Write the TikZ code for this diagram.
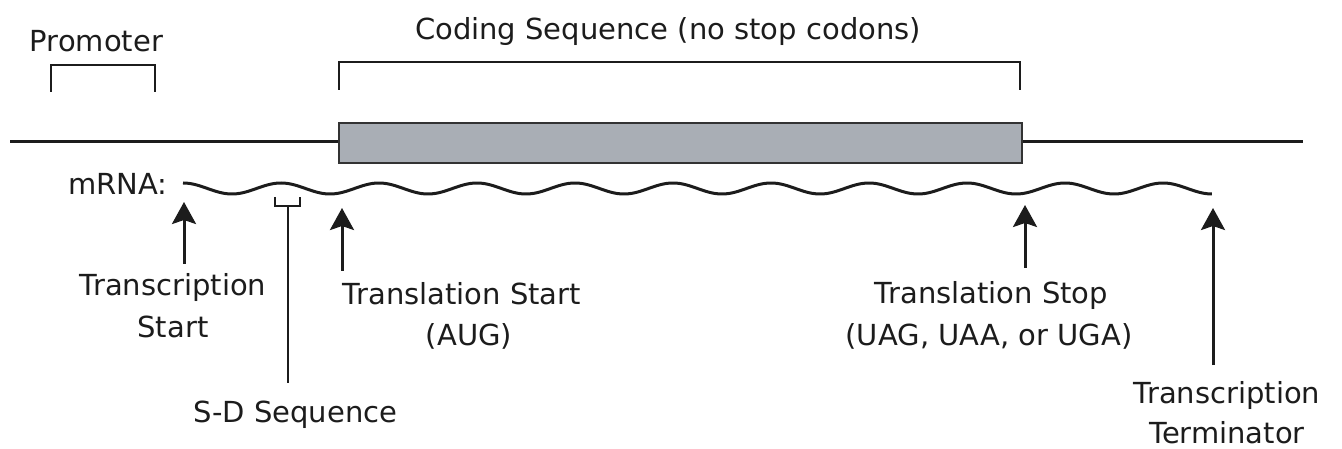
\documentclass[tikz,border=0pt]{standalone}
\usepackage{fontspec}
\setmainfont{DejaVu Sans}
\usetikzlibrary{arrows.meta}
\definecolor{cdsgray}{HTML}{A9AEB5}
\definecolor{cdsedge}{HTML}{333333}
\definecolor{ink}{HTML}{1C1C1C}
\begin{document}
\begin{tikzpicture}[x=1pt,y=-1pt,
  dna/.style={draw=ink, line width=3pt},
  brk/.style={draw=ink, line width=2.6pt},
  wave/.style={draw=ink, line width=3pt, line join=round},
  pointer/.style={draw=ink, line width=3pt,
    -{Stealth[length=22pt,width=24pt,inset=4pt]}},
  cds/.style={draw=cdsedge, fill=cdsgray, line width=2pt,
    minimum width=683pt, minimum height=40pt, inner sep=0pt},
  lbl/.style={font=\fontsize{29}{42}\selectfont, text=ink,
    inner sep=0pt, anchor=base}]
\useasboundingbox (0,0) rectangle (1342,449);

% DNA with the coding region box
\coordinate (dnaL) at (10,142);
\coordinate (dnaR) at (1303,142);
\node[cds] (cds) at (680.5,143) {};
\draw[dna] (dnaL) -- (dnaL -| cds.west);
\draw[dna] (dnaR -| cds.east) -- (dnaR);

% brackets above the DNA
\draw[brk] (51,92) -- (51,65) -- (155,65) -- (155,92);
\draw[brk] (339,90) -- (339,62) -- (1020,62) -- (1020,90);
\node[lbl] (prom) at (96.5,52) {Promoter};
\node[lbl] (coding) at (668,40) {Coding Sequence (no stop codons)};

% mRNA transcript
\node[lbl, anchor=base west] (mrna) at (68,195) {mRNA:};
\draw[wave] plot[domain=0:10.5, samples=420]
  ({183+98*\x}, {188.5-5.5*cos(360*\x)});

% Shine-Dalgarno bracket
\coordinate (sdL) at (275,197);
\coordinate (sdR) at (300,197);
\coordinate (sdMid) at (288,206);
\coordinate (sdFoot) at (288,383);
\draw[brk] (sdL) -- (sdL |- sdMid) -- (sdR |- sdMid) -- (sdR);
\draw[brk] (sdMid) -- (sdFoot);
\node[lbl] (sd) at (295.5,422) {S-D Sequence};

% pointers to sites on the mRNA
\coordinate (txsTip) at (184,202);
\coordinate (txsFoot) at (184,264);
\coordinate (tlsTip) at (342,208);
\coordinate (tlsFoot) at (342,271);
\coordinate (stopTip) at (1025,205);
\coordinate (stopFoot) at (1025,268);
\coordinate (termTip) at (1213,208);
\coordinate (termFoot) at (1213,365);
\draw[pointer] (txsFoot) -- (txsTip);
\draw[pointer] (tlsFoot) -- (tlsTip);
\draw[pointer] (stopFoot) -- (stopTip);
\draw[pointer] (termFoot) -- (termTip);

\node[lbl] (txs1) at (173,295) {Transcription};
\node[lbl] (txs2) at (173,337) {Start};
\node[lbl] (tls1) at (462,305) {Translation Start};
\node[lbl] (tls2) at (469,345) {(AUG)};
\node[lbl] (stop1) at (991.5,303) {Translation Stop};
\node[lbl] (stop2) at (989,345) {(UAG, UAA, or UGA)};
\node[lbl] (term1) at (1227,403) {Transcription};
\node[lbl] (term2) at (1227,443) {Terminator};
\end{tikzpicture}
\end{document}
